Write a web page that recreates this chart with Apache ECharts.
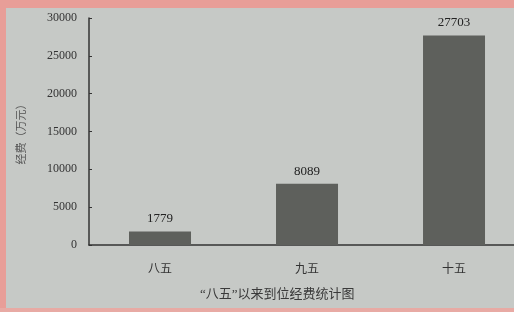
<!DOCTYPE html>
<html>
<head>
<meta charset="utf-8">
<script src="https://cdn.jsdelivr.net/npm/echarts@6/dist/echarts.min.js"></script>
<style>
html, body { margin: 0; padding: 0; }
#main { width: 514px; height: 312px; background: #c6c9c6; }
</style>
</head>
<body>
<div id="main"></div>
<script>
var categories = ['八五', '九五', '十五'];
var funds = [1779, 8089, 27703];
var yTicks = [0, 5000, 10000, 15000, 20000, 25000, 30000];

var myChart = echarts.init(document.getElementById('main'));
var font = '"Liberation Serif", "Noto Sans CJK SC", serif';
// 柱子位置按序号放在数值轴上，这样右侧可以截断
var barData = funds.map(function (v, i) { return [i, v]; });
option = {
    backgroundColor: '#c6c9c6',
    graphic: [
        // 照片边缘的粉色
        { type: 'rect', left: 0, top: 0, shape: { width: 514, height: 8 }, style: { fill: '#e89e98' }, silent: true },
        { type: 'rect', left: 0, top: 0, shape: { width: 6, height: 312 }, style: { fill: '#e89e98' }, silent: true },
        { type: 'rect', left: 0, top: 308, shape: { width: 514, height: 4 }, style: { fill: '#e8aaa4' }, silent: true },
        {
            type: 'text', left: 200, top: 288,
            style: { text: '“八五”以来到位经费统计图', fill: '#3a3a3a', fontSize: 13, fontFamily: font }
        }
    ],
    grid: {
        left: 89,
        top: 18,
        right: 0,
        bottom: 67,
        containLabel: false
    },
    xAxis: {
        type: 'value',
        min: -0.483,
        max: 2.408,
        splitLine: { show: false },
        axisLine: { show: true, lineStyle: { color: '#333', width: 1.5 } },
        axisTick: { show: false },
        axisLabel: {
            color: '#333', fontSize: 12, margin: 19, fontFamily: font,
            showMinLabel: false, showMaxLabel: false,
            formatter: function (v) {
                return Math.abs(v - Math.round(v)) < 1e-6 && categories[Math.round(v)] ? categories[Math.round(v)] : '';
            }
        }
    },
    yAxis: {
        type: 'value',
        min: yTicks[0],
        max: yTicks[yTicks.length - 1],
        interval: 5000,
        axisLine: { show: true, onZero: false, lineStyle: { color: '#333', width: 1.5 } },
        axisTick: { show: true, inside: true, length: 3, lineStyle: { color: '#333' } },
        splitLine: { show: false },
        axisLabel: {
            color: '#333', fontSize: 12, margin: 12, fontFamily: font,
            formatter: function (v) { return String(v); }
        },
        name: '经费（万元）',
        nameLocation: 'middle',
        nameGap: 61,
        nameTextStyle: { color: '#555', fontSize: 11, fontFamily: font }
    },
    series: [{
        type: 'bar',
        data: barData,
        barWidth: 62,
        itemStyle: { color: '#5e605c' },
        label: {
            show: true,
            position: 'top',
            distance: 6,
            color: '#222',
            fontSize: 13,
            fontFamily: font,
            formatter: function (p) { return p.value[1]; }
        }
    }]
};
myChart.setOption(option);
</script>
</body>
</html>
